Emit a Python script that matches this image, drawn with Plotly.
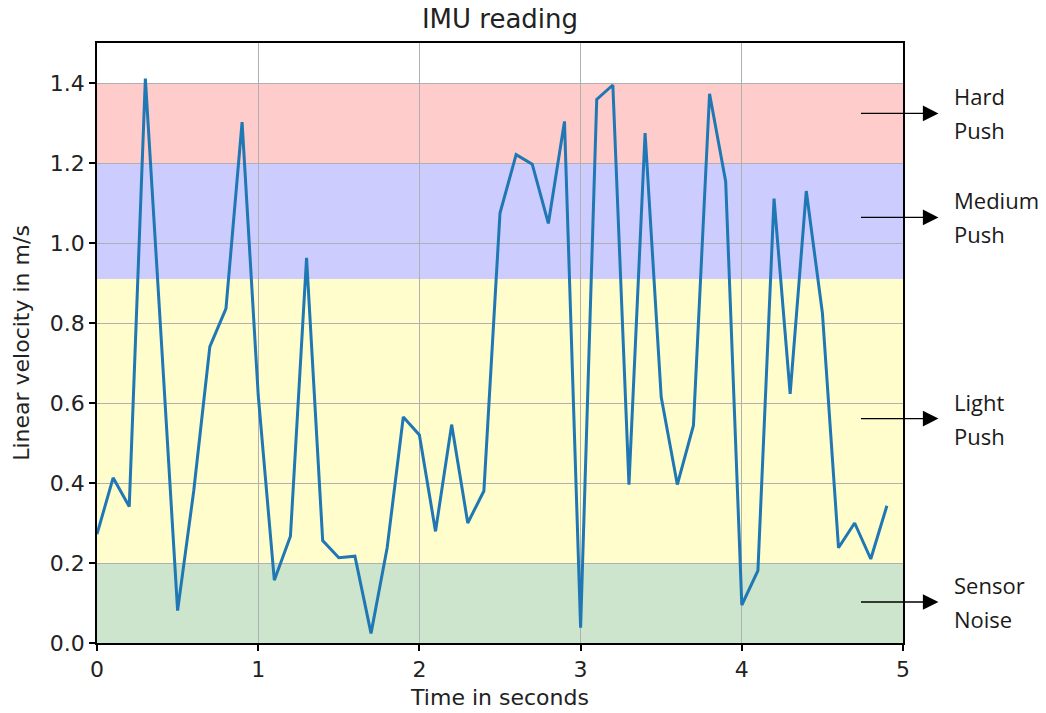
import plotly.graph_objects as go

# IMU linear velocity sampled every 0.1 s
time_s = [round(0.1 * i, 1) for i in range(50)]
velocity = [
    0.272, 0.413, 0.341, 1.411, 0.750, 0.081, 0.380, 0.741, 0.836, 1.302,
    0.620, 0.157, 0.267, 0.963, 0.256, 0.213, 0.217, 0.024, 0.238, 0.565,
    0.520, 0.279, 0.546, 0.300, 0.380, 1.075, 1.221, 1.197, 1.049, 1.304,
    0.038, 1.359, 1.395, 0.396, 1.275, 0.615, 0.396, 0.544, 1.373, 1.154,
    0.095, 0.181, 1.111, 0.623, 1.130, 0.825, 0.238, 0.300, 0.210, 0.343,
]

# Push-intensity bands: (lower, upper, fill colour)
band_low = [0.0, 0.2, 0.91, 1.2]
band_high = [0.2, 0.91, 1.2, 1.4]
band_color = ["rgb(204,229,204)", "rgb(255,253,204)", "rgb(204,204,255)", "rgb(255,204,204)"]

# Labels pointing at each band
label_lines = [["Hard", "Push"], ["Medium", "Push"], ["Light", "Push"], ["Sensor", "Noise"]]
label_y = [1.324, 1.064, 0.561, 0.1025]

x_ticks = [0, 1, 2, 3, 4, 5]
y_ticks = [0.0, 0.2, 0.4, 0.6, 0.8, 1.0, 1.2, 1.4]

fig = go.Figure()
fig.add_trace(go.Scatter(
    x=time_s, y=velocity, mode="lines",
    line=dict(color="#1f77b4", width=3),
    showlegend=False, hoverinfo="skip",
))

for lo, hi, col in zip(band_low, band_high, band_color):
    fig.add_shape(type="rect", xref="x", yref="y", x0=0, x1=5, y0=lo, y1=hi,
                  fillcolor=col, line=dict(width=0), layer="below")

label_font = dict(family="Open Sans", size=22, color="#1a1a1a")
text_x = (952 - 97) / 806  # paper coordinate just right of the arrow heads

annotations = []
for lines, yv in zip(label_lines, label_y):
    annotations.append(dict(
        x=5.22, y=yv, xref="x", yref="y",
        ax=4.73, ay=yv, axref="x", ayref="y",
        text="", showarrow=True, arrowhead=2, arrowsize=2.4,
        arrowwidth=1.3, arrowcolor="black",
    ))
    annotations.append(dict(
        x=text_x, y=yv, xref="paper", yref="y", xanchor="left", yanchor="bottom",
        yshift=0, text=lines[0], showarrow=False, font=label_font,
    ))
    annotations.append(dict(
        x=text_x, y=yv, xref="paper", yref="y", xanchor="left", yanchor="top",
        yshift=0, text=lines[1], showarrow=False, font=label_font,
    ))

axis_font = dict(family="DejaVu Sans", size=22, color="#222")

fig.update_layout(
    width=1046, height=713,
    margin=dict(l=97, r=143, t=43, b=70),
    paper_bgcolor="white", plot_bgcolor="white",
    title=dict(text="IMU reading", x=(97 + 806 / 2) / 1046, xanchor="center",
               y=1 - 19 / 713, yanchor="middle", yref="container",
               font=dict(family="DejaVu Sans", size=26, color="#222")),
    annotations=annotations,
    xaxis=dict(
        range=[0, 5], tickvals=x_ticks, ticktext=[str(v) for v in x_ticks],
        showgrid=True, gridcolor="#b0b0b0", gridwidth=1.3,
        showline=True, linecolor="black", linewidth=1.5, mirror=True,
        ticks="outside", ticklen=6, tickwidth=1.5, tickcolor="black",
        tickfont=axis_font, zeroline=False, automargin=False,
        title=dict(text="Time in seconds", font=axis_font, standoff=8),
    ),
    yaxis=dict(
        range=[0, 1.5], tickvals=y_ticks, ticktext=[f"{v:.1f}" for v in y_ticks],
        showgrid=True, gridcolor="#b0b0b0", gridwidth=1.3,
        showline=True, linecolor="black", linewidth=1.5, mirror=True,
        ticks="outside", ticklen=6, tickwidth=1.5, tickcolor="black",
        tickfont=axis_font, zeroline=False, automargin=False,
        title=dict(text="Linear velocity in m/s", font=axis_font, standoff=14),
    ),
)

fig.write_html("out.html")
